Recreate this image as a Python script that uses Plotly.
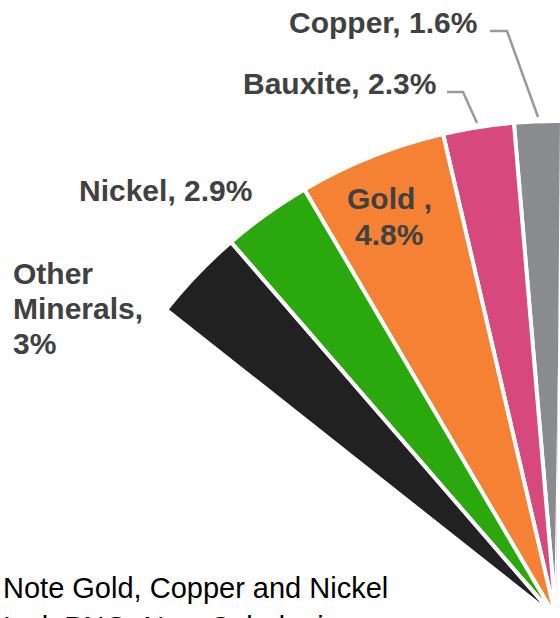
import numpy as np
import plotly.graph_objects as go

# ---- data ----
categories = ["Copper", "Bauxite", "Gold ", "Nickel", "Other Minerals"]
shares = [1.6, 2.3, 4.8, 2.9, 3.0]          # percent of total
colors = ["#8a8b8f", "#d7487c", "#f58234", "#2ba80d", "#212121"]

W, H = 560, 618
start_angle = -0.9      # degrees, where first slice starts (from 12 o'clock)

vals = np.array(shares, dtype=float)
deg = vals * 3.6
ends = start_angle + np.cumsum(deg)
centers = ends - deg / 2

fig = go.Figure()
fig.add_trace(go.Barpolar(
    r=[1] * len(vals),
    theta=centers,
    width=deg,
    marker=dict(color=colors, line=dict(color="white", width=4)),
    text=categories,
    hoverinfo="text",
    showlegend=False,
))

def px(x):
    return x / W

def py(y):
    return 1 - y / H

RMAX = 1.012
R = 497 * RMAX
cx, cy = 556, 618
sector_right = np.degrees(np.arccos((W - cx) / R))

label_font = dict(family="Liberation Sans, Arial, sans-serif", size=30, color="#414141", weight="bold")
note_font = dict(family="Liberation Sans, Arial, sans-serif", size=29, color="#000000")

annotations = []
def ann(text, x, y, xanchor="left", font=label_font):
    annotations.append(dict(text=text, x=px(x), y=py(y), xref="paper", yref="paper",
                            xanchor=xanchor, yanchor="middle", showarrow=False, font=font))

ann(f"{categories[0]}, {shares[0]:g}%", 287, 22)
ann(f"{categories[1]}, {shares[1]:g}%", 241, 84)
ann(f"{categories[3]}, {shares[3]:g}%", 77, 190)
ann("Other", 11, 273)
ann("Minerals,", 11, 308)
ann(f"{shares[4]:g}%", 11, 343)
ann(f"{categories[2]},", 389, 198, xanchor="center")
ann(f"{shares[2]:g}%", 389, 234, xanchor="center")
ann("Note Gold, Copper and Nickel", 1, 588, font=note_font)
ann("Incl. PNG, New Caledonia", 1, 627, font=note_font)

def path(points):
    return "M " + " L ".join(f"{px(x):.5f},{py(y):.5f}" for x, y in points)

shapes = [
    dict(type="path", xref="paper", yref="paper",
         path=path([(490, 31), (507, 31), (538, 117)]),
         line=dict(color="#9a9a9a", width=2.5)),
    dict(type="path", xref="paper", yref="paper",
         path=path([(447, 92), (463, 92), (477, 123)]),
         line=dict(color="#9a9a9a", width=2.5)),
]

fig.update_layout(
    width=W, height=H,
    margin=dict(l=0, r=0, t=0, b=0),
    paper_bgcolor="white",
    plot_bgcolor="white",
    polar=dict(
        domain=dict(x=[(cx - R) / W, 1.0], y=[0, (H - (cy - R)) / H]),
        sector=[sector_right, 180],
        bgcolor="white",
        angularaxis=dict(rotation=90, direction="counterclockwise", visible=False,
                         showgrid=False, showline=False, ticks="", showticklabels=False,
                         linecolor="white", linewidth=0, gridcolor="white"),
        radialaxis=dict(range=[0, RMAX], visible=False, showgrid=False, showline=False,
                        ticks="", showticklabels=False, linecolor="white", gridcolor="white"),
    ),
    annotations=annotations,
    shapes=shapes,
)

fig.write_html("out.html")
